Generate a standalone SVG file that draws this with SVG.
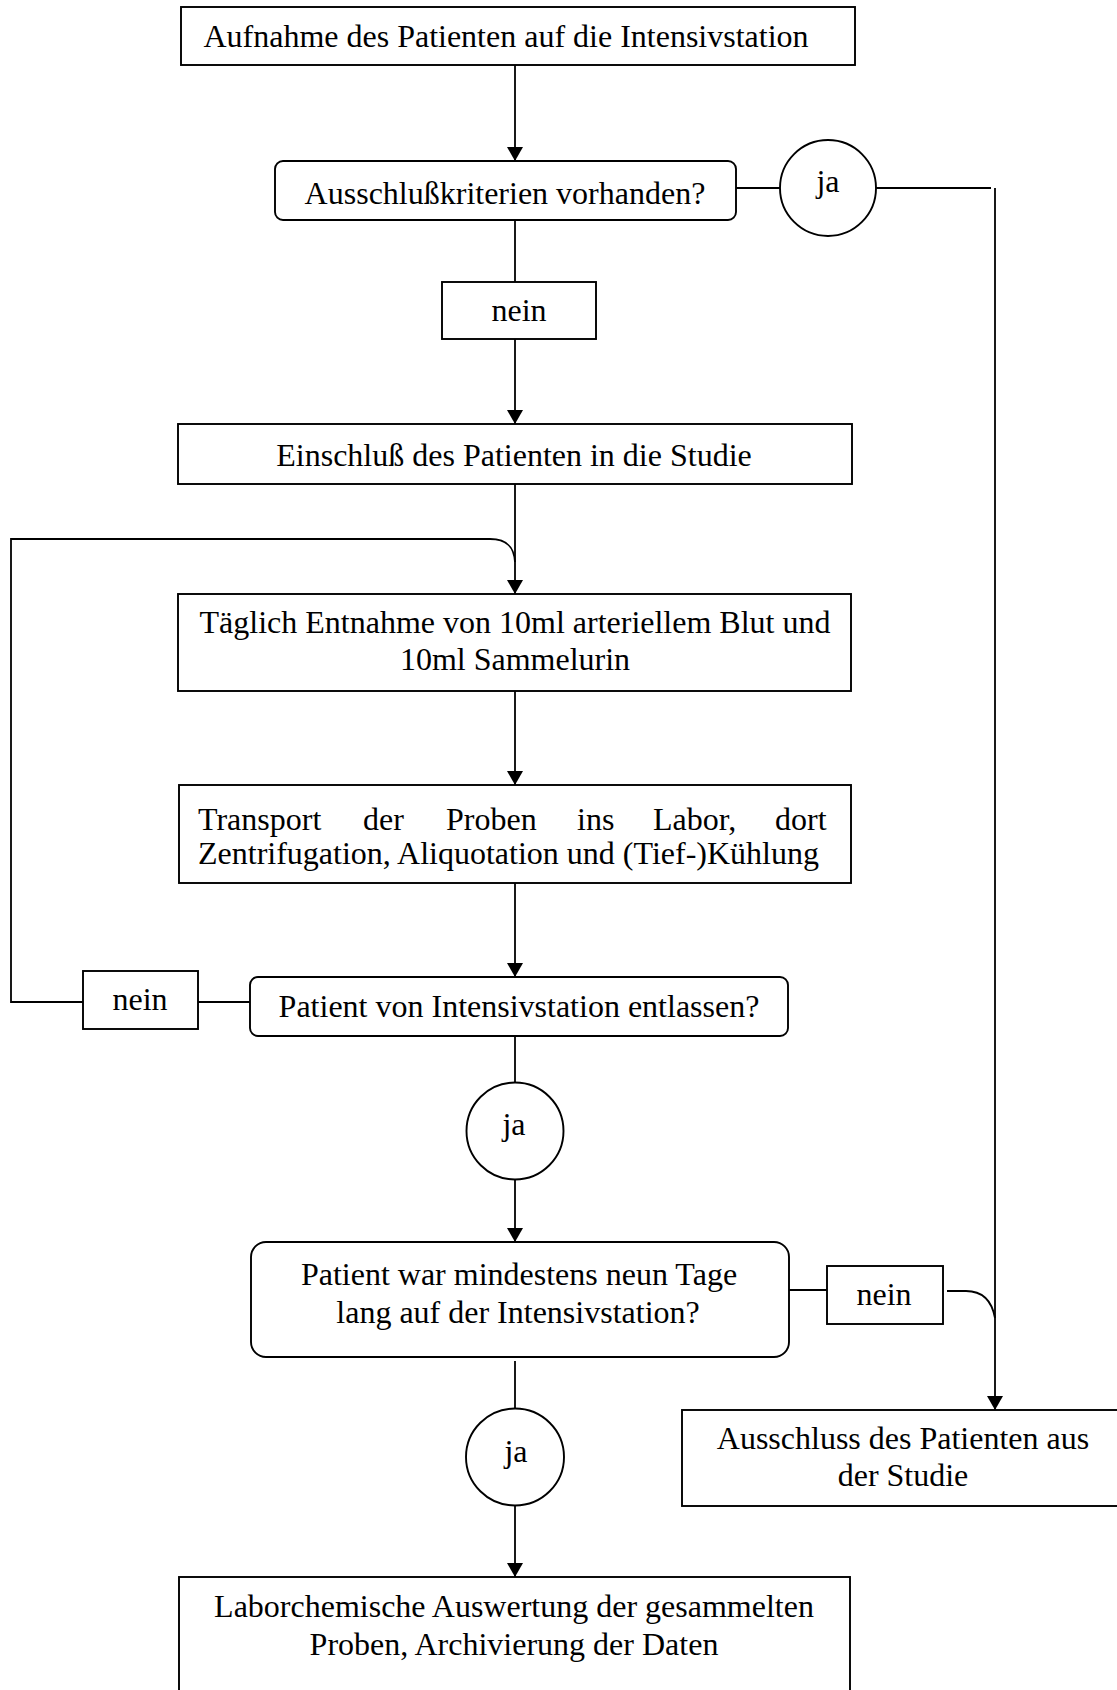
<svg xmlns="http://www.w3.org/2000/svg" width="1117" height="1690" viewBox="0 0 1117 1690">
<style>
  .box { fill: #fff; stroke: #000; stroke-width: 1.9; }
  .ln { fill: none; stroke: #000; stroke-width: 1.8; }
  .t { font-family: "Liberation Serif", "Times New Roman", serif; font-size: 32px; fill: #000; text-anchor: middle; }
  .tl { font-family: "Liberation Serif", "Times New Roman", serif; font-size: 32px; fill: #000; }
</style>
<defs>
  <marker id="arr" viewBox="0 0 14 16" refX="14" refY="8" markerWidth="14" markerHeight="16" markerUnits="userSpaceOnUse" orient="auto">
    <path d="M0,0 L14,8 L0,16 z" fill="#000"/>
  </marker>
</defs>
<rect width="1117" height="1690" fill="#fff"/>

<g id="connectors">
  <line class="ln" x1="515" y1="65" x2="515" y2="161" marker-end="url(#arr)"/>
  <line class="ln" x1="736" y1="188" x2="780" y2="188"/>
  <line class="ln" x1="876" y1="188" x2="991" y2="188"/>
  <line class="ln" x1="995" y1="188" x2="995" y2="1410" marker-end="url(#arr)"/>
  <line class="ln" x1="515" y1="220" x2="515" y2="282"/>
  <line class="ln" x1="515" y1="339" x2="515" y2="424" marker-end="url(#arr)"/>
  <line class="ln" x1="515" y1="484" x2="515" y2="594" marker-end="url(#arr)"/>
  <path class="ln" d="M83,1002 H11 V539 H490 C506,539 514,546 515,562"/>
  <line class="ln" x1="515" y1="691" x2="515" y2="785" marker-end="url(#arr)"/>
  <line class="ln" x1="515" y1="883" x2="515" y2="977" marker-end="url(#arr)"/>
  <line class="ln" x1="198" y1="1002" x2="250" y2="1002"/>
  <line class="ln" x1="515" y1="1036" x2="515" y2="1083"/>
  <line class="ln" x1="515" y1="1180" x2="515" y2="1242" marker-end="url(#arr)"/>
  <line class="ln" x1="789" y1="1290" x2="827" y2="1290"/>
  <path class="ln" d="M947,1291 H966 Q990,1291 995,1318"/>
  <line class="ln" x1="515" y1="1361" x2="515" y2="1409"/>
  <line class="ln" x1="515" y1="1506" x2="515" y2="1577" marker-end="url(#arr)"/>
</g>

<g id="n1">
  <rect class="box" x="181" y="7" width="674" height="58"/>
  <text class="t" x="506" y="47">Aufnahme des Patienten auf die Intensivstation</text>
</g>
<g id="n2">
  <rect class="box" x="275" y="161" width="461" height="59" rx="8"/>
  <text class="t" x="505" y="204">Ausschlußkriterien vorhanden?</text>
</g>
<g id="ja1">
  <circle class="box" cx="828" cy="188" r="48"/>
  <text class="t" x="828" y="192">ja</text>
</g>
<g id="nein1">
  <rect class="box" x="442" y="282" width="154" height="57"/>
  <text class="t" x="519" y="321">nein</text>
</g>
<g id="n3">
  <rect class="box" x="178" y="424" width="674" height="60"/>
  <text class="t" x="514" y="466">Einschluß des Patienten in die Studie</text>
</g>
<g id="n4">
  <rect class="box" x="178" y="594" width="673" height="97"/>
  <text class="t" x="515" y="633">Täglich Entnahme von 10ml arteriellem Blut und</text>
  <text class="t" x="515" y="670">10ml Sammelurin</text>
</g>
<g id="n5">
  <rect class="box" x="179" y="785" width="672" height="98"/>
  <text class="tl" y="830"><tspan x="198">Transport</tspan><tspan x="363">der</tspan><tspan x="446">Proben</tspan><tspan x="577">ins</tspan><tspan x="653">Labor,</tspan><tspan x="775">dort</tspan></text>
  <text class="tl" x="198" y="864">Zentrifugation, Aliquotation und (Tief-)Kühlung</text>
</g>
<g id="nein2">
  <rect class="box" x="83" y="971" width="115" height="58"/>
  <text class="t" x="140" y="1010">nein</text>
</g>
<g id="n6">
  <rect class="box" x="250" y="977" width="538" height="59" rx="8"/>
  <text class="t" x="519" y="1017">Patient von Intensivstation entlassen?</text>
</g>
<g id="ja2">
  <circle class="box" cx="515" cy="1131" r="48.5"/>
  <text class="t" x="514" y="1135">ja</text>
</g>
<g id="n7">
  <rect class="box" x="251" y="1242" width="538" height="115" rx="15"/>
  <text class="t" x="519" y="1285">Patient war mindestens neun Tage</text>
  <text class="t" x="518" y="1323">lang auf der Intensivstation?</text>
</g>
<g id="nein3">
  <rect class="box" x="827" y="1266" width="116" height="58"/>
  <text class="t" x="884" y="1305">nein</text>
</g>
<g id="ja3">
  <ellipse class="box" cx="515" cy="1457" rx="49" ry="48.5"/>
  <text class="t" x="516" y="1462">ja</text>
</g>
<g id="n8">
  <rect class="box" x="682" y="1410" width="440" height="96"/>
  <text class="t" x="903" y="1449">Ausschluss des Patienten aus</text>
  <text class="t" x="903" y="1486">der Studie</text>
</g>
<g id="n9">
  <rect class="box" x="179" y="1577" width="671" height="130"/>
  <text class="t" x="514" y="1617">Laborchemische Auswertung der gesammelten</text>
  <text class="t" x="514" y="1655">Proben, Archivierung der Daten</text>
</g>
</svg>
